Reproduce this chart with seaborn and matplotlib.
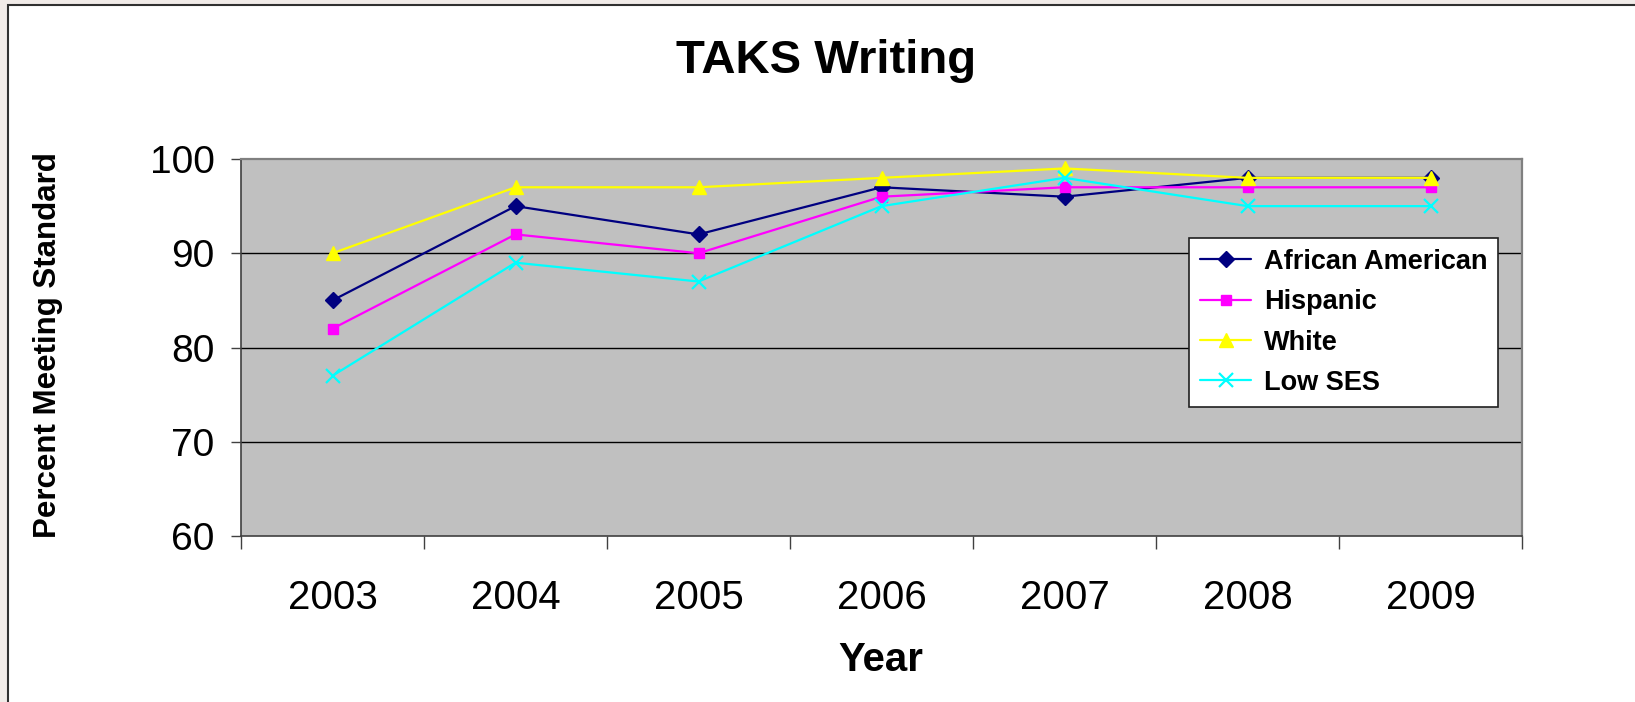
import matplotlib
matplotlib.use("Agg")
import matplotlib.pyplot as plt
import seaborn as sns
import pandas as pd
from matplotlib.patches import Rectangle

years = ["2003", "2004", "2005", "2006", "2007", "2008", "2009"]
african_american = [85, 95, 92, 97, 96, 98, 98]
hispanic = [82, 92, 90, 96, 97, 97, 97]
white = [90, 97, 97, 98, 99, 98, 98]
low_ses = [77, 89, 87, 95, 98, 95, 95]
series_names = ["African American", "Hispanic", "White", "Low SES"]
y_ticks = [60, 70, 80, 90, 100]

sns.set_theme(style="white")
plt.rcParams["font.family"] = ["Liberation Sans", "DejaVu Sans"]
plt.rcParams["text.color"] = "black"
plt.rcParams["axes.labelcolor"] = "black"
plt.rcParams["xtick.color"] = "black"
plt.rcParams["ytick.color"] = "black"

W, H = 1635, 702
fig = plt.figure(figsize=(W / 100, H / 100), dpi=100)
fig.patch.set_facecolor("#f1ebe8")
fig.add_artist(Rectangle((8 / W, -0.1), 1.2, (H - 5) / H + 0.1,
                         transform=fig.transFigure, facecolor="white",
                         edgecolor="#303030", lw=1.5, zorder=-1))

ax = fig.add_axes([241 / W, 1 - 536 / H, (1522 - 241) / W, (536 - 159) / H])
ax.set_facecolor("#C0C0C0")

pos = list(range(len(years)))
styles = [
    (african_american, "#000080", "D", 8, 1.0),
    (hispanic, "#FF00FF", "s", 7.5, 1.0),
    (white, "#FFFF00", "^", 10, 1.0),
    (low_ses, "#00FFFF", "x", 10, 1.6),
]
for name, (vals, col, mk, ms, mew) in zip(series_names, styles):
    df = pd.DataFrame({"x": pos, "y": vals})
    sns.lineplot(data=df, x="x", y="y", ax=ax, color=col, marker=mk,
                 markersize=ms, markeredgewidth=mew, markeredgecolor=col,
                 linewidth=1.6, label=name)

ax.set_xlim(-0.5, len(years) - 0.5)
ax.set_ylim(60, 100)
ax.set_yticks(y_ticks)
ax.set_yticklabels([str(v) for v in y_ticks])
# boundary ticks (major) without labels, labels at category centres (minor)
ax.set_xticks([p - 0.5 for p in pos] + [len(years) - 0.5])
ax.set_xticklabels([])
ax.set_xticks(pos, minor=True)
ax.set_xticklabels(years, minor=True)

ax.tick_params(axis="x", which="major", direction="out", length=9, width=1,
               color="#404040", bottom=True)
ax.tick_params(axis="x", which="minor", length=0, pad=31, labelsize=29,
               labelcolor="black")
ax.tick_params(axis="y", which="major", direction="out", length=7.5, width=1,
               color="#404040", left=True, pad=11.5, labelsize=28,
               labelcolor="black")

ax.grid(False)
for v in y_ticks[1:-1]:
    ax.axhline(v, color="black", lw=1.0, zorder=1)

for side in ["top", "right"]:
    ax.spines[side].set_color("#808080")
    ax.spines[side].set_linewidth(1.6)
for side in ["left", "bottom"]:
    ax.spines[side].set_color("#404040")
    ax.spines[side].set_linewidth(1.2)
ax.set_xlabel("")
ax.set_ylabel("")

leg = ax.legend(loc="upper left", bbox_to_anchor=(1189 / W, 1 - 238 / H),
                bbox_transform=fig.transFigure, frameon=True, fancybox=False,
                edgecolor="#202020", facecolor="white", framealpha=1,
                prop={"size": 19.5, "weight": "bold"}, handlelength=1.9,
                handletextpad=0.47, borderpad=0.4, labelspacing=0.53,
                borderaxespad=0)
leg.get_frame().set_linewidth(1.2)

fig.text(826 / W, 1 - 73 / H, "TAKS Writing", ha="center", va="baseline",
         fontsize=34, fontweight="bold")
fig.text(881 / W, 1 - 671 / H, "Year", ha="center", va="baseline",
         fontsize=29, fontweight="bold")
fig.text(48 / W, 1 - 345.5 / H, "Percent Meeting Standard", ha="center",
         va="center", rotation=90, fontsize=22.5, fontweight="bold")

fig.savefig("out.png", dpi=100, facecolor=fig.get_facecolor())
